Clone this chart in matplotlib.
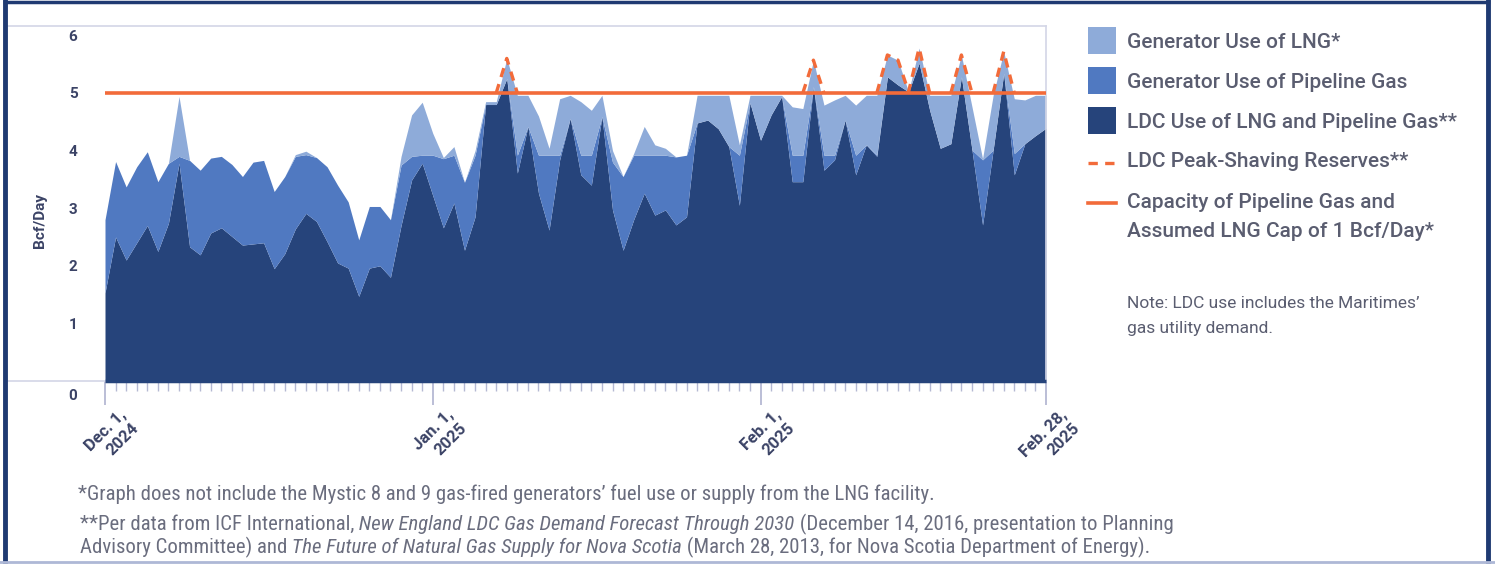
import numpy as np
import matplotlib
matplotlib.use("Agg")
import matplotlib.pyplot as plt
import matplotlib.transforms as mtransforms
from matplotlib import font_manager
from matplotlib.patches import Rectangle
from matplotlib.lines import Line2D

# daily values, Dec 1 2024 .. Feb 28 2025 (Bcf/Day)
ldc_use = [1.53, 2.50, 2.10, 2.40, 2.70, 2.25, 2.74, 3.78, 2.33, 2.19,
           2.57, 2.66, 2.51, 2.36, 2.38, 2.40, 1.95, 2.21, 2.64, 2.91,
           2.77, 2.42, 2.05, 1.96, 1.47, 1.96, 2.00, 1.80, 2.70, 3.49,
           3.78, 3.22, 2.66, 3.09, 2.27, 2.85, 4.80, 4.80, 5.25, 3.61,
           4.42, 3.26, 2.62, 3.84, 4.56, 3.58, 3.40, 4.59, 2.97, 2.27,
           2.80, 3.26, 2.88, 2.97, 2.71, 2.85, 4.48, 4.53, 4.38, 4.07,
           3.05, 4.83, 4.18, 4.62, 4.94, 3.46, 3.46, 5.11, 3.66, 3.84,
           4.53, 3.58, 4.10, 3.90, 5.28, 5.14, 5.02, 5.52, 4.70, 4.04,
           4.12, 5.28, 4.01, 2.71, 4.01, 5.34, 3.58, 4.12, 4.26, 4.39]

# top of the "generator use of pipeline gas" band
with_pipeline_gen = [2.80, 3.81, 3.37, 3.72, 3.98, 3.46, 3.78, 3.90, 3.83, 3.66,
                     3.87, 3.90, 3.76, 3.55, 3.80, 3.83, 3.29, 3.55, 3.90, 3.93,
                     3.88, 3.72, 3.40, 3.11, 2.45, 3.03, 3.03, 2.80, 3.75, 3.90,
                     3.92, 3.92, 3.86, 3.92, 3.45, 3.92, 4.80, 4.80, 5.25, 3.92,
                     4.42, 3.92, 3.92, 3.92, 4.56, 3.92, 3.92, 4.59, 3.80, 3.55,
                     3.92, 3.92, 3.92, 3.92, 3.89, 3.92, 4.48, 4.53, 4.38, 4.07,
                     3.92, 4.83, 4.18, 4.62, 4.94, 3.92, 3.92, 5.11, 3.92, 3.92,
                     4.53, 3.92, 4.10, 3.92, 5.28, 5.14, 5.02, 5.52, 4.70, 4.04,
                     4.12, 5.28, 4.01, 3.84, 4.01, 5.34, 3.95, 4.12, 4.26, 4.39]

# top of the "generator use of LNG" band (total demand)
total_demand = [2.80, 3.81, 3.37, 3.72, 3.98, 3.46, 3.78, 4.94, 3.83, 3.66,
                3.87, 3.90, 3.76, 3.55, 3.80, 3.83, 3.29, 3.55, 3.93, 3.99,
                3.88, 3.72, 3.40, 3.11, 2.45, 3.03, 3.03, 2.80, 3.90, 4.62,
                4.84, 4.30, 3.88, 4.07, 3.45, 4.00, 4.85, 4.85, 5.60, 4.96,
                4.96, 4.60, 4.04, 4.90, 4.96, 4.85, 4.70, 4.96, 4.00, 3.55,
                3.95, 4.42, 4.10, 4.04, 3.89, 3.92, 4.96, 4.96, 4.96, 4.96,
                4.10, 4.96, 4.96, 4.96, 4.96, 4.76, 4.73, 5.57, 4.79, 4.88,
                4.96, 4.79, 4.96, 4.96, 5.66, 5.57, 5.02, 5.78, 4.96, 4.96,
                4.96, 5.66, 4.76, 3.86, 4.96, 5.72, 4.90, 4.88, 4.96, 4.96]

capacity = 5.0
month_ticks = [0, 31, 62, 89]
month_labels = ["Dec. 1,\n2024", "Jan. 1,\n2025", "Feb. 1,\n2025", "Feb. 28,\n2025"]
y_ticks = [0, 1, 2, 3, 4, 5, 6]

legend_items = ["Generator Use of LNG*", "Generator Use of Pipeline Gas",
                "LDC Use of LNG and Pipeline Gas**", "LDC Peak-Shaving Reserves**"]

# colours
DARK = "#26447b"
MID = "#5079c1"
LIGHT = "#8eabd9"
ORANGE = "#f26b3a"
TEXT = "#5a5d70"
LABEL = "#3b4366"
FRAME = "#d3d6e6"
TICK = "#b5b9d3"
NAVY = "#1f3a72"

names = {f.name for f in font_manager.fontManager.ttflist}
MAIN = "Roboto" if "Roboto" in names else "DejaVu Sans"
NARROW = MAIN
for cand in ["Liberation Sans Narrow", "DejaVu Sans Condensed", "Roboto Condensed"]:
    if cand in names:
        NARROW = cand
        break

W, H = 1495, 569
fig = plt.figure(figsize=(W / 100, H / 100), dpi=100)


def fx(x):
    return x / W


def fy(y):
    return 1 - y / H


ax = fig.add_axes([fx(8), fy(381), (1046 - 8) / W, (381 - 26) / H])
days = np.arange(len(ldc_use))
ldc = np.array(ldc_use)
pipe_top = np.array(with_pipeline_gen)
total = np.array(total_demand)

ax.fill_between(days, 0, ldc, color=DARK, lw=0, zorder=2)
ax.fill_between(days, ldc, pipe_top, color=MID, lw=0, zorder=2)
ax.fill_between(days, pipe_top, total, color=LIGHT, lw=0, zorder=2)

# peak-shaving outline, only around the days above capacity
above = total > capacity
near = above | np.roll(above, 1) | np.roll(above, -1)
shave = np.where(near, np.maximum(total, capacity), np.nan)
ax.plot(days, shave, color=ORANGE, lw=2.4, dashes=(2.8, 2.2), zorder=3)
ax.hlines(capacity, days[0], days[-1], color=ORANGE, lw=2.6, zorder=4)
ax.hlines(0, days[0], days[-1], color=DARK, lw=2.5, zorder=5, clip_on=False)

ax.set_xlim(-(105 - 8) / 10.573, days[-1])
ax.set_ylim(0, 355 / 57.6)

for side in ["top", "right", "bottom"]:
    ax.spines[side].set_color(FRAME)
    ax.spines[side].set_linewidth(1.2)
ax.spines["left"].set_visible(False)

ax.set_xticks(month_ticks)
ax.set_xticklabels(month_labels, rotation=45, ha="right", va="top",
                   rotation_mode="anchor", fontsize=12, color=LABEL,
                   fontweight="bold", family=MAIN, linespacing=1.3)
ax.set_xticks(days, minor=True)
ax.tick_params(axis="x", which="major", length=17, width=1.3, color=TICK, pad=2)
ax.tick_params(axis="x", which="minor", length=7, width=1.0, color=TICK)
shift = mtransforms.ScaledTranslation(13 / 100, 0, fig.dpi_scale_trans)
for lab in ax.get_xticklabels():
    lab.set_transform(lab.get_transform() + shift)

ax.set_yticks(y_ticks)
ax.set_yticklabels([str(v) for v in y_ticks], fontsize=11, color=LABEL,
                   fontweight="bold", family=MAIN)
ax.tick_params(axis="y", length=0, pad=-50)
zero_shift = mtransforms.ScaledTranslation(0, -14 / 100, fig.dpi_scale_trans)
ax.get_yticklabels()[0].set_transform(ax.get_yticklabels()[0].get_transform() + zero_shift)

ax.set_ylabel("Bcf/Day", fontsize=11, color=LABEL, fontweight="bold", family=MAIN)
ax.yaxis.set_label_coords((47 - 8) / 1038, (381 - 220) / 355)

# legend, drawn by hand to follow the original layout
LEG = 15
swatch_rows = [(LIGHT, 41), (MID, 81), (DARK, 121)]
for (col, yc), text in zip(swatch_rows, legend_items[:3]):
    fig.add_artist(Rectangle((fx(1088), fy(yc + 13)), 28 / W, 27 / H,
                             transform=fig.transFigure, color=col, lw=0))
    fig.text(fx(1127), fy(yc + 1), text, fontsize=LEG, color=TEXT,
             family=MAIN, fontweight="medium", va="center")

fig.add_artist(Line2D([fx(1088), fx(1116)], [fy(163), fy(163)], color=ORANGE,
                      lw=2.4, dashes=(2.8, 2.2), transform=fig.transFigure))
fig.text(fx(1127), fy(162), legend_items[3], fontsize=LEG, color=TEXT,
         family=MAIN, fontweight="medium", va="center")
fig.add_artist(Line2D([fx(1088), fx(1116)], [fy(203), fy(203)], color=ORANGE,
                      lw=2.6, transform=fig.transFigure))
fig.text(fx(1127), fy(203), "Capacity of Pipeline Gas and", fontsize=LEG,
         color=TEXT, family=MAIN, fontweight="medium", va="center")
fig.text(fx(1127), fy(231), "Assumed LNG Cap of 1 Bcf/Day*", fontsize=LEG,
         color=TEXT, family=MAIN, fontweight="medium", va="center")

fig.text(fx(1127), fy(304), "Note: LDC use includes the Maritimes\u2019", fontsize=12.5,
         color=TEXT, family=MAIN, va="center")
fig.text(fx(1127), fy(329), "gas utility demand.", fontsize=12.5,
         color=TEXT, family=MAIN, va="center")

# footnotes with italic titles
renderer = fig.canvas.get_renderer()
foot_lines = [
    (78, 494, [("*Graph does not include the Mystic 8 and 9 gas-fired generators\u2019 fuel use or supply from the LNG facility.", "normal")]),
    (80, 524, [("**Per data from ICF International,", "normal"),
               (" New England LDC Gas Demand Forecast Through 2030", "italic"),
               (" (December 14, 2016, presentation to Planning", "normal")]),
    (80, 547, [("Advisory Committee) and", "normal"),
               (" The Future of Natural Gas Supply for Nova Scotia", "italic"),
               (" (March 28, 2013, for Nova Scotia Department of Energy).", "normal")]),
]

probe = fig.text(0, 0, "".join(s for s, _ in foot_lines[1][2]), fontsize=12, family=NARROW)
foot_size = 12 * 1100 / probe.get_window_extent(renderer).width
probe.remove()

for x0, y0, runs in foot_lines:
    x = x0
    for s, style in runs:
        t = fig.text(fx(x), fy(y0), s, fontsize=foot_size, family=NARROW,
                     style=style, color="#6a6d7e", va="center")
        x += t.get_window_extent(renderer).width

# outer frame of the graphic
fig.add_artist(Line2D([fx(5), fx(5)], [fy(1), fy(561)], color=NAVY, lw=3.5,
                      transform=fig.transFigure))
fig.add_artist(Line2D([fx(1488), fx(1488)], [fy(1), fy(561)], color=NAVY, lw=3.5,
                      transform=fig.transFigure))
fig.add_artist(Line2D([fx(5), fx(1488)], [fy(1.5), fy(1.5)], color=NAVY, lw=2.5,
                      transform=fig.transFigure))
fig.add_artist(Line2D([0, 1], [fy(562), fy(562)], color="#aeb8d6", lw=2,
                      transform=fig.transFigure))

fig.savefig("out.png", dpi=100, facecolor="white")
